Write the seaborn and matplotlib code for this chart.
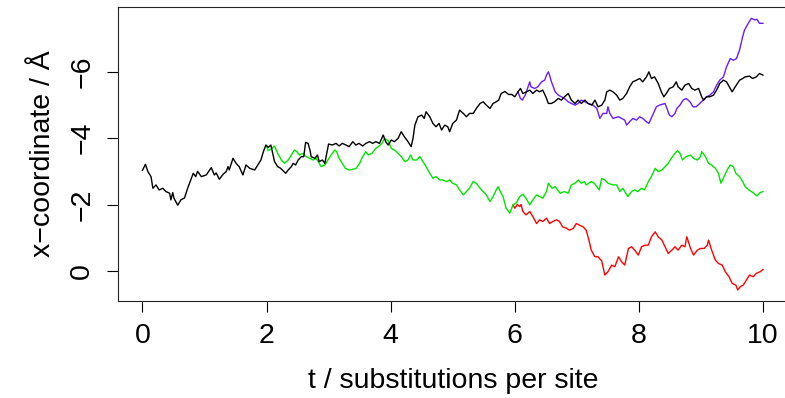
import numpy as np
import pandas as pd
import matplotlib
matplotlib.use("Agg")
import matplotlib.pyplot as plt
import seaborn as sns

# ---- data ----
black_t = [0.00, 0.05, 0.09, 0.14, 0.17, 0.22, 0.27, 0.33, 0.38, 0.44, 0.46, 0.49, 0.51, 0.57, 0.62, 0.68,
           0.73, 0.79, 0.82, 0.86, 0.89, 0.95, 1.03, 1.11, 1.16, 1.19, 1.24, 1.30, 1.35, 1.38, 1.40, 1.46,
           1.51, 1.56, 1.62, 1.67, 1.73, 1.81, 1.86, 1.91, 1.95, 1.99, 2.03, 2.07, 2.10, 2.13, 2.18, 2.22,
           2.25, 2.31, 2.35, 2.40, 2.43, 2.47, 2.51, 2.56, 2.60, 2.63, 2.67, 2.70, 2.72, 2.78, 2.82, 2.85,
           2.90, 2.94, 2.96, 3.00, 3.06, 3.12, 3.17, 3.22, 3.28, 3.33, 3.39, 3.44, 3.49, 3.55, 3.60, 3.66,
           3.71, 3.76, 3.82, 3.88, 3.92, 3.96, 4.01, 4.06, 4.12, 4.17, 4.22, 4.28, 4.33, 4.36, 4.39, 4.44,
           4.50, 4.54, 4.57, 4.63, 4.68, 4.73, 4.78, 4.82, 4.87, 4.92, 4.95, 5.00, 5.06, 5.11, 5.17, 5.22,
           5.27, 5.33, 5.38, 5.44, 5.49, 5.54, 5.60, 5.65, 5.70, 5.74, 5.78, 5.84, 5.90, 5.95, 6.00, 6.05,
           6.09, 6.13, 6.19, 6.24, 6.29, 6.35, 6.40, 6.45, 6.50, 6.54, 6.59, 6.64, 6.70, 6.75, 6.80, 6.86,
           6.91, 6.97, 7.02, 7.07, 7.13, 7.18, 7.24, 7.29, 7.34, 7.40, 7.45, 7.48, 7.53, 7.58, 7.64, 7.69,
           7.74, 7.80, 7.85, 7.90, 7.96, 8.01, 8.06, 8.12, 8.16, 8.20, 8.25, 8.31, 8.36, 8.40, 8.44, 8.49,
           8.55, 8.60, 8.63, 8.69, 8.74, 8.80, 8.85, 8.90, 8.96, 9.01, 9.04, 9.09, 9.14, 9.20, 9.25, 9.30,
           9.36, 9.41, 9.47, 9.50, 9.55, 9.62, 9.67, 9.71, 9.78, 9.83, 9.89, 9.94, 10.00]
black_v = [-3.02, -3.21, -2.99, -2.84, -2.49, -2.59, -2.44, -2.49, -2.39, -2.34, -2.14, -2.36, -2.19, -1.98, -2.14, -2.20,
           -2.49, -2.79, -2.94, -2.84, -3.00, -2.84, -2.89, -3.11, -2.89, -2.95, -2.76, -2.91, -2.99, -3.14, -3.04, -3.39,
           -3.24, -3.14, -2.89, -3.19, -3.09, -3.04, -3.19, -3.34, -3.59, -3.79, -3.72, -3.79, -3.54, -3.29, -3.14, -3.10,
           -3.05, -2.94, -3.04, -3.14, -3.24, -3.19, -3.34, -3.44, -3.44, -3.87, -3.84, -3.64, -3.44, -3.39, -3.49, -3.29,
           -3.34, -3.24, -3.44, -3.82, -3.79, -3.84, -3.76, -3.84, -3.79, -3.74, -3.89, -3.79, -3.84, -3.76, -3.84, -3.89,
           -3.84, -3.89, -3.84, -4.09, -3.89, -3.79, -3.94, -3.89, -3.99, -4.19, -4.04, -3.89, -3.74, -3.99, -4.39, -4.64,
           -4.69, -4.59, -4.79, -4.64, -4.44, -4.34, -4.44, -4.24, -4.39, -4.34, -4.19, -4.44, -4.54, -4.84, -4.74, -4.64,
           -4.74, -4.74, -4.89, -5.04, -5.09, -4.99, -4.89, -5.04, -5.09, -5.14, -5.34, -5.40, -5.31, -5.31, -5.24, -5.39,
           -5.49, -5.34, -5.39, -5.44, -5.34, -5.44, -5.39, -5.44, -5.24, -5.04, -5.04, -5.09, -5.19, -5.14, -5.24, -5.34,
           -5.14, -5.04, -5.14, -5.04, -5.14, -5.04, -4.99, -5.14, -4.94, -4.99, -5.14, -5.39, -5.44, -5.39, -5.29, -5.14,
           -5.19, -5.34, -5.54, -5.69, -5.74, -5.79, -5.69, -5.84, -5.99, -5.79, -5.84, -5.64, -5.39, -5.24, -5.34, -5.49,
           -5.54, -5.69, -5.54, -5.44, -5.59, -5.64, -5.49, -5.44, -5.49, -5.24, -5.14, -5.24, -5.24, -5.29, -5.44, -5.64,
           -5.74, -5.69, -5.49, -5.39, -5.54, -5.74, -5.79, -5.84, -5.86, -5.79, -5.84, -5.94, -5.89]

green_t = [2.00, 2.03, 2.08, 2.13, 2.18, 2.24, 2.29, 2.35, 2.40, 2.45, 2.49, 2.53, 2.59, 2.64, 2.70, 2.75,
           2.80, 2.85, 2.88, 2.94, 2.99, 3.04, 3.10, 3.13, 3.17, 3.22, 3.27, 3.33, 3.38, 3.44, 3.50, 3.55,
           3.60, 3.64, 3.70, 3.76, 3.80, 3.86, 3.90, 3.96, 4.01, 4.06, 4.12, 4.17, 4.23, 4.28, 4.32, 4.36,
           4.42, 4.47, 4.52, 4.57, 4.63, 4.68, 4.73, 4.79, 4.84, 4.90, 4.95, 5.00, 5.06, 5.11, 5.17, 5.22,
           5.27, 5.33, 5.38, 5.44, 5.49, 5.54, 5.60, 5.65, 5.70, 5.73, 5.78, 5.81, 5.86, 5.92, 5.97, 6.02,
           6.08, 6.13, 6.18, 6.24, 6.29, 6.35, 6.40, 6.45, 6.51, 6.54, 6.60, 6.65, 6.73, 6.80, 6.86, 6.91,
           6.97, 7.02, 7.07, 7.12, 7.15, 7.23, 7.28, 7.36, 7.40, 7.45, 7.50, 7.58, 7.64, 7.69, 7.74, 7.82,
           7.88, 7.93, 7.98, 8.04, 8.09, 8.15, 8.20, 8.26, 8.31, 8.37, 8.42, 8.47, 8.52, 8.58, 8.62, 8.66,
           8.70, 8.76, 8.83, 8.88, 8.94, 8.99, 9.01, 9.07, 9.12, 9.17, 9.23, 9.28, 9.32, 9.37, 9.42, 9.47,
           9.52, 9.56, 9.62, 9.67, 9.71, 9.77, 9.85, 9.90, 9.95, 10.00]
green_v = [-3.75, -3.62, -3.68, -3.76, -3.54, -3.34, -3.24, -3.34, -3.49, -3.64, -3.59, -3.49, -3.54, -3.44, -3.39, -3.34,
           -3.39, -3.24, -3.14, -3.19, -3.34, -3.49, -3.64, -3.59, -3.39, -3.24, -3.09, -3.04, -3.06, -3.08, -3.24, -3.44,
           -3.59, -3.49, -3.54, -3.69, -3.74, -3.84, -3.99, -3.92, -3.69, -3.64, -3.54, -3.44, -3.29, -3.34, -3.49, -3.34,
           -3.34, -3.44, -3.29, -3.14, -2.94, -2.79, -2.84, -2.74, -2.74, -2.69, -2.74, -2.64, -2.59, -2.44, -2.29, -2.39,
           -2.49, -2.69, -2.64, -2.49, -2.39, -2.29, -2.09, -2.24, -2.44, -2.54, -2.34, -2.24, -1.89, -1.74, -1.99, -2.04,
           -2.24, -2.31, -2.19, -1.99, -2.14, -2.29, -2.24, -2.19, -2.39, -2.64, -2.49, -2.54, -2.34, -2.39, -2.34, -2.59,
           -2.64, -2.74, -2.64, -2.69, -2.59, -2.69, -2.64, -2.44, -2.79, -2.74, -2.64, -2.59, -2.59, -2.39, -2.49, -2.24,
           -2.39, -2.44, -2.39, -2.49, -2.44, -2.69, -2.84, -3.09, -2.99, -3.04, -3.14, -3.24, -3.39, -3.54, -3.62, -3.54,
           -3.34, -3.44, -3.49, -3.39, -3.34, -3.44, -3.59, -3.44, -3.24, -3.19, -3.09, -2.94, -2.64, -2.84, -3.04, -3.19,
           -3.14, -2.94, -2.84, -2.69, -2.54, -2.44, -2.34, -2.26, -2.36, -2.39]

red_t = [5.97, 6.00, 6.04, 6.08, 6.10, 6.13, 6.18, 6.24, 6.29, 6.35, 6.40, 6.45, 6.51, 6.56, 6.61, 6.67,
         6.72, 6.77, 6.83, 6.88, 6.94, 6.99, 7.04, 7.10, 7.15, 7.20, 7.23, 7.29, 7.34, 7.40, 7.45, 7.50,
         7.56, 7.61, 7.67, 7.72, 7.77, 7.83, 7.88, 7.93, 7.99, 8.04, 8.10, 8.15, 8.20, 8.26, 8.31, 8.37,
         8.42, 8.47, 8.53, 8.58, 8.63, 8.69, 8.74, 8.77, 8.83, 8.88, 8.94, 8.99, 9.05, 9.10, 9.12, 9.17,
         9.23, 9.28, 9.34, 9.39, 9.45, 9.50, 9.56, 9.59, 9.63, 9.68, 9.73, 9.78, 9.84, 9.89, 9.95, 10.00]
red_v = [-1.99, -1.89, -2.00, -1.94, -2.00, -1.79, -1.69, -1.79, -1.64, -1.43, -1.54, -1.49, -1.59, -1.43, -1.49, -1.54,
         -1.49, -1.33, -1.29, -1.23, -1.28, -1.43, -1.38, -1.33, -1.23, -0.88, -0.63, -0.43, -0.43, -0.30, 0.12, 0.02,
         -0.18, -0.13, -0.43, -0.28, -0.18, -0.68, -0.73, -0.63, -0.48, -0.73, -0.78, -0.78, -1.03, -1.18, -1.03, -0.93,
         -0.73, -0.53, -0.63, -0.73, -0.63, -0.78, -0.73, -1.03, -0.68, -0.48, -0.63, -0.68, -0.68, -0.78, -0.93, -0.63,
         -0.33, -0.23, -0.18, 0.02, 0.17, 0.37, 0.42, 0.57, 0.47, 0.42, 0.27, 0.12, 0.17, 0.07, 0.02, -0.05]

purple_t = [6.05, 6.09, 6.12, 6.17, 6.24, 6.26, 6.32, 6.37, 6.43, 6.48, 6.51, 6.54, 6.56, 6.59, 6.65, 6.70,
            6.75, 6.80, 6.86, 6.91, 6.97, 7.02, 7.07, 7.13, 7.18, 7.26, 7.32, 7.37, 7.42, 7.48, 7.50, 7.53,
            7.58, 7.67, 7.72, 7.77, 7.80, 7.85, 7.90, 7.96, 8.01, 8.06, 8.12, 8.16, 8.22, 8.28, 8.33, 8.42,
            8.44, 8.49, 8.53, 8.58, 8.61, 8.66, 8.71, 8.76, 8.82, 8.87, 8.92, 8.98, 9.03, 9.09, 9.14, 9.20,
            9.25, 9.30, 9.36, 9.41, 9.47, 9.52, 9.57, 9.62, 9.67, 9.70, 9.76, 9.81, 9.87, 9.90, 9.94, 10.00]
purple_v = [-5.39, -5.19, -5.14, -5.30, -5.69, -5.54, -5.49, -5.54, -5.69, -5.74, -5.89, -5.99, -5.89, -5.69, -5.39, -5.29,
            -5.24, -5.19, -5.09, -5.04, -4.99, -5.04, -5.14, -5.09, -5.04, -4.99, -4.89, -4.59, -4.74, -4.74, -4.94, -4.74,
            -4.59, -4.64, -4.59, -4.54, -4.39, -4.49, -4.59, -4.54, -4.64, -4.59, -4.49, -4.44, -4.69, -4.94, -4.99, -5.04,
            -4.94, -4.69, -4.64, -4.74, -4.89, -4.99, -5.14, -5.19, -5.09, -4.94, -4.94, -5.04, -5.14, -5.24, -5.29, -5.39,
            -5.59, -5.74, -5.84, -6.14, -6.39, -6.34, -6.39, -6.65, -7.05, -7.25, -7.45, -7.60, -7.55, -7.57, -7.45, -7.45]

x_ticks = [0, 2, 4, 6, 8, 10]
y_ticks = [0, -2, -4, -6]
x_label = "t / substitutions per site"
y_label = "x\u2212coordinate / \u00c5"

# ---- styling ----
sns.set_style("white")
plt.rcParams["font.family"] = ["Liberation Sans", "DejaVu Sans"]
plt.rcParams["axes.unicode_minus"] = True

W, H = 785, 398
fig = plt.figure(figsize=(W / 100, H / 100), dpi=100)
left, right, top, bottom = 117.5, 788.0, 7.0, 301.0
ax = fig.add_axes([left / W, 1 - bottom / H, (right - left) / W, (bottom - top) / H])

series = [
    (red_t, red_v, "#ff0000"),
    (green_t, green_v, "#00e400"),
    (purple_t, purple_v, "#6a1bff"),
    (black_t, black_v, "#000000"),
]
for tt, vv, col in series:
    df = pd.DataFrame({"t": tt, "v": vv})
    sns.lineplot(data=df, x="t", y="v", color=col, linewidth=1.0, sort=False,
                 estimator=None, ax=ax, legend=False)

ax.set_xlim(-0.4, 10.4)
ax.set_ylim(0.9, -7.94)
ax.set_xticks(x_ticks)
ax.set_xticklabels([str(v) for v in x_ticks])
ax.set_yticks(y_ticks)
ax.set_yticklabels([f"{v}".replace("-", "\u2212") for v in y_ticks])

fs = 20.5
ax.tick_params(axis="both", direction="out", length=8, width=0.8, color="black",
               labelsize=fs, labelcolor="black", bottom=True, left=True)
ax.tick_params(axis="x", pad=7.5)
ax.tick_params(axis="y", pad=8)
for lab in ax.get_yticklabels():
    lab.set_rotation(90)
    lab.set_va("center")

for s in ax.spines.values():
    s.set_visible(True)
    s.set_color("#222222")
    s.set_linewidth(0.8)

ax.set_xlabel(x_label, fontsize=fs, color="black")
ax.set_ylabel(y_label, fontsize=fs, color="black")
ax.xaxis.set_label_coords(0.5, -(368 - bottom) / (bottom - top))
ax.yaxis.set_label_coords((56 - left) / (right - left), 0.5)

fig.savefig("out.png", dpi=100)
